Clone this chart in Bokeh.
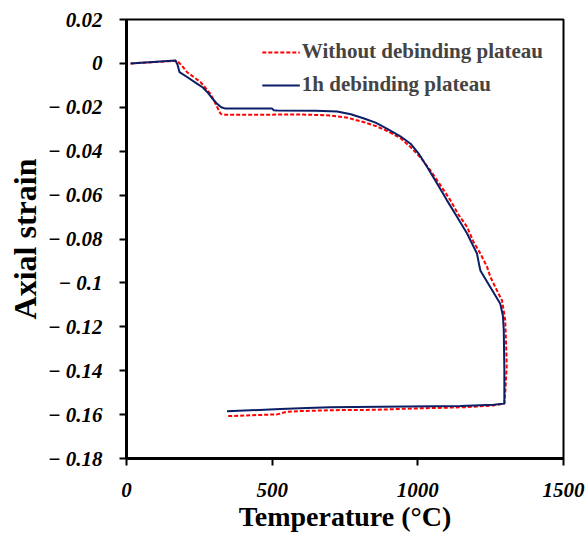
from bokeh.plotting import figure
from bokeh.models import FixedTicker, Legend, LegendItem, Range1d
from bokeh.embed import file_html
from bokeh.resources import INLINE

# Dilatometry: axial strain vs temperature for two sintering schedules
temp_without = [14, 174, 190, 208, 254, 288, 323, 340, 600, 700, 760, 813, 855, 895,
                940, 975, 1010, 1043, 1075, 1112, 1140, 1169, 1190, 1215, 1238, 1249,
                1270, 1289, 1300, 1304, 1305, 1300, 1297, 1260, 1169, 963, 860, 700,
                597, 551, 517, 345]
strain_without = [0.0, 0.0012, -0.001, -0.004, -0.0085, -0.0138, -0.023, -0.0234,
                  -0.0233, -0.0237, -0.0248, -0.0267, -0.0285, -0.0308, -0.034, -0.0381,
                  -0.043, -0.0487, -0.055, -0.0624, -0.069, -0.0745, -0.081, -0.0867,
                  -0.0928, -0.0973, -0.103, -0.108, -0.117, -0.132, -0.138, -0.150,
                  -0.155, -0.1558, -0.1566, -0.1573, -0.1578, -0.158, -0.1584, -0.1587,
                  -0.1599, -0.1607]

temp_1h = [14, 168, 175, 182, 208, 243, 262, 277, 295, 311, 325, 340, 500, 505, 517,
           650, 723, 770, 813, 855, 895, 940, 975, 1005, 1032, 1065, 1100, 1135, 1169,
           1203, 1212, 1215, 1249, 1283, 1292, 1295, 1297, 1297, 1260, 1146, 872, 700,
           620, 528, 345]
strain_1h = [0.0, 0.0013, -0.0005, -0.004, -0.0062, -0.0093, -0.011, -0.013, -0.016,
             -0.0184, -0.0200, -0.0206, -0.0206, -0.0213, -0.0215, -0.0216, -0.0219,
             -0.0232, -0.025, -0.027, -0.0298, -0.0332, -0.0366, -0.0415, -0.0472,
             -0.0545, -0.0624, -0.070, -0.0775, -0.0866, -0.0928, -0.0945, -0.102,
             -0.1095, -0.115, -0.1216, -0.140, -0.155, -0.1555, -0.1561, -0.1564,
             -0.1566, -0.157, -0.1575, -0.1585]

series_names = ["Without debinding plateau", "1h debinding plateau"]

x_ticks = [0, 500, 1000, 1500]
y_ticks = [0.02, 0.0, -0.02, -0.04, -0.06, -0.08, -0.1, -0.12, -0.14, -0.16, -0.18]
y_tick_labels = ["0.02", "0", "\u2212 0.02", "\u2212 0.04", "\u2212 0.06", "\u2212 0.08",
                 "\u2212 0.1", "\u2212 0.12", "\u2212 0.14", "\u2212 0.16", "\u2212 0.18"]

FONT = "Liberation Serif"

p = figure(width=587, height=534, output_backend="svg", toolbar_location=None,
           x_range=Range1d(0, 1500), y_range=Range1d(-0.18, 0.02),
           min_border_left=126, min_border_right=24, min_border_top=19,
           min_border_bottom=76)
p.grid.visible = False
p.outline_line_color = "black"
p.outline_line_width = 2
p.background_fill_color = "white"
p.border_fill_color = "white"

r_red = p.line(temp_without, strain_without, line_color="#FF0000", line_width=2,
               line_dash="4 2")
r_blue = p.line(temp_1h, strain_1h, line_color="#0B1F66", line_width=2)

for ax in (p.xaxis[0], p.yaxis[0]):
    ax.axis_line_width = 3
    ax.axis_line_color = "black"
    ax.major_tick_line_width = 2
    ax.major_tick_out = 7
    ax.major_tick_in = 0
    ax.minor_tick_line_color = None
    ax.major_label_text_font = FONT
    ax.major_label_text_font_style = "bold italic"
    ax.major_label_text_font_size = "21px"
    ax.major_label_text_color = "black"
    ax.axis_label_text_font = FONT
    ax.axis_label_text_font_style = "bold"
    ax.axis_label_text_color = "black"

p.xaxis.axis_label_text_font_size = "28px"
p.yaxis.axis_label_text_font_size = "32px"

p.xaxis.ticker = FixedTicker(ticks=x_ticks)
p.yaxis.ticker = FixedTicker(ticks=y_ticks)
p.yaxis.major_label_overrides = {t: s for t, s in zip(y_ticks, y_tick_labels)}
p.xaxis.major_label_standoff = 17
p.yaxis.major_label_standoff = 17
p.xaxis.axis_label = "Temperature (\u00b0C)"
p.yaxis.axis_label = "Axial strain"
p.xaxis.axis_label_standoff = 1
p.yaxis.axis_label_standoff = 2

legend = Legend(items=[LegendItem(label=series_names[0], renderers=[r_red]),
                       LegendItem(label=series_names[1], renderers=[r_blue])],
                location="top_right")
legend.border_line_alpha = 0
legend.background_fill_alpha = 0
legend.label_text_font = FONT
legend.label_text_font_style = "bold"
legend.label_text_font_size = "21px"
legend.glyph_width = 38
legend.glyph_height = 22
legend.label_height = 22
legend.label_standoff = 2
legend.spacing = 8
legend.margin = 10
legend.padding = 10
p.add_layout(legend)

open("out.html", "w").write(file_html(p, INLINE))
